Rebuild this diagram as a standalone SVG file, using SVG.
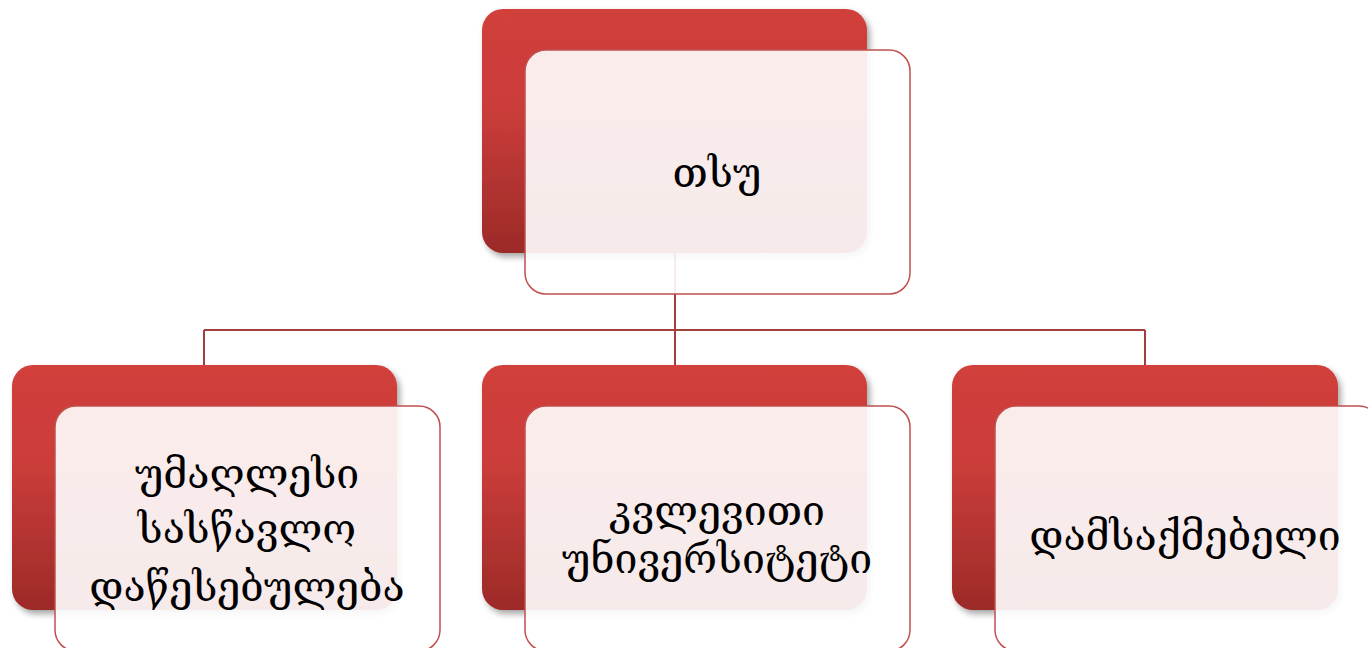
<svg xmlns="http://www.w3.org/2000/svg" width="1368" height="648" viewBox="0 0 1368 648">
<defs>
<linearGradient id="rg" x1="0" y1="0" x2="0" y2="1">
<stop offset="0" stop-color="#d13f3b"/>
<stop offset="0.4" stop-color="#cb3d3a"/>
<stop offset="1" stop-color="#9c2a28"/>
</linearGradient>
<filter id="sh" x="-10%" y="-10%" width="125%" height="125%">
<feDropShadow dx="3" dy="4" stdDeviation="3" flood-color="#000" flood-opacity="0.35"/>
</filter>
</defs>
<style>
.red{fill:url(#rg);filter:url(#sh)}
.ov{fill:#ffffff;fill-opacity:0.9;stroke:#c0504d;stroke-width:1.5}
.t{font-family:"DejaVu Serif","DejaVu Sans",serif;font-size:41px;fill:#000;text-anchor:middle}
.con{fill:none;stroke:#a33f3d;stroke-width:2}
</style>
<rect width="1368" height="648" fill="#fff"/>
<g id="connectors">
<path class="con" d="M675,253 V330 M204,330 H1145 M204,330 V366 M675,330 V366 M1145,330 V366"/>
</g>
<g id="node-tsu">
<rect class="red" x="482" y="9" width="385" height="244" rx="21"/>
<rect class="ov" x="525" y="50" width="385" height="244" rx="21"/>
<text class="t" x="717" y="187">თსუ</text>
</g>
<g id="node-higher-edu">
<rect class="red" x="12" y="365" width="385" height="245" rx="21"/>
<rect class="ov" x="55" y="406" width="385" height="245" rx="21"/>
<text class="t" x="247" y="488">უმაღლესი</text>
<text class="t" x="247" y="543">სასწავლო</text>
<text class="t" x="247" y="601">დაწესებულება</text>
</g>
<g id="node-research-univ">
<rect class="red" x="482" y="365" width="385" height="245" rx="21"/>
<rect class="ov" x="525" y="406" width="385" height="245" rx="21"/>
<text class="t" x="717" y="525">კვლევითი</text>
<text class="t" x="717" y="573">უნივერსიტეტი</text>
</g>
<g id="node-employer">
<rect class="red" x="952" y="365" width="386" height="245" rx="21"/>
<rect class="ov" x="995" y="406" width="385" height="245" rx="21"/>
<text class="t" x="1185" y="550">დამსაქმებელი</text>
</g>
</svg>
